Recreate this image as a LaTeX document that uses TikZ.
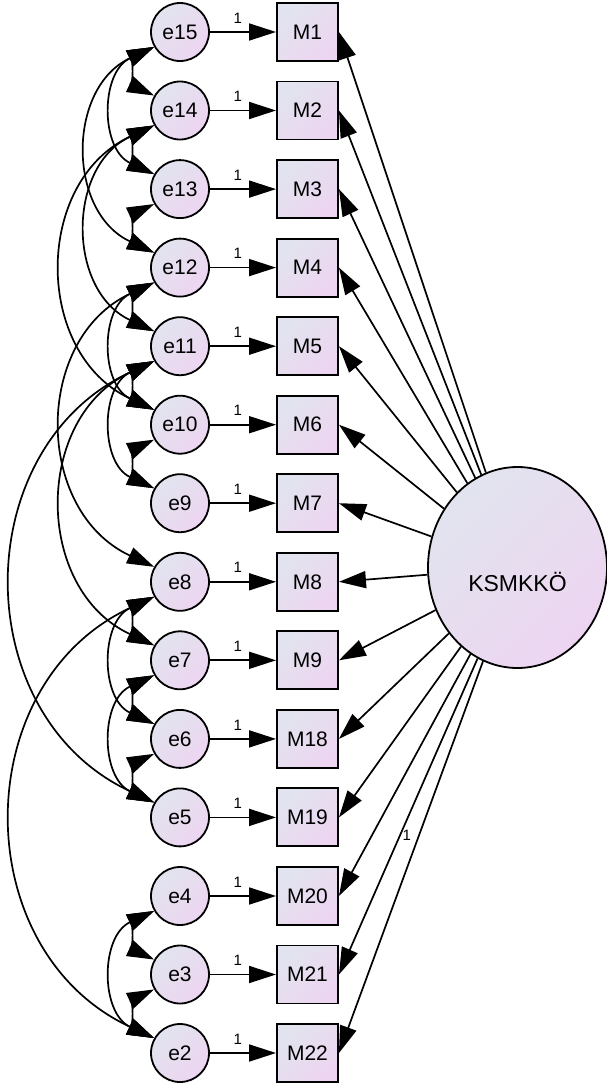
\documentclass[tikz,border=0pt]{standalone}
\usepackage{fontspec}
\setmainfont{Liberation Sans}
\usetikzlibrary{arrows.meta,shapes.geometric}

\definecolor{amosTopo}{RGB}{225,228,238}
\definecolor{amosBase}{RGB}{237,213,241}

\tikzset{
	ponta/.tip={Triangle[length=27pt,width=17pt]},
	erro/.style={circle, draw, line width=1.8pt, minimum size=58pt, inner sep=0pt,
		top color=amosTopo, bottom color=amosBase, shading angle=45,
		font=\fontsize{21}{21}\selectfont},
	obs/.style={rectangle, draw, line width=1.9pt, minimum width=61pt, minimum height=58pt, inner sep=0pt,
		top color=amosTopo, bottom color=amosBase, shading angle=45,
		font=\fontsize{21}{21}\selectfont},
	seta/.style={-ponta, line width=1.7pt},
	cov/.style={ponta-ponta, line width=1.7pt, bend right=65, looseness=1.2},
	um/.style={font=\fontsize{15}{15}\selectfont, inner sep=1pt}
}

\begin{document}
\begin{tikzpicture}[x=1pt, y=-1pt]
		\useasboundingbox (0,0) rectangle (607,1088);

		% Erros
		\node[erro] (e15) at (180,32)		{e15};
		\node[erro] (e14) at (180,110.5)	{e14};
		\node[erro] (e13) at (180,189.1)	{e13};
		\node[erro] (e12) at (180,267.6)	{e12};
		\node[erro] (e11) at (180,346.2)	{e11};
		\node[erro] (e10) at (180,424.7)	{e10};
		\node[erro] (e9) at (180,503.2)		{e9};
		\node[erro] (e8) at (180,581.8)		{e8};
		\node[erro] (e7) at (180,660.3)		{e7};
		\node[erro] (e6) at (180,738.9)		{e6};
		\node[erro] (e5) at (180,817.4)		{e5};
		\node[erro] (e4) at (180,896)		{e4};
		\node[erro] (e3) at (180,974.5)		{e3};
		\node[erro] (e2) at (180,1053)		{e2};

		% Itens
		\node[obs] (M1) at (307.5,32)		{M1};
		\node[obs] (M2) at (307.5,110.5)	{M2};
		\node[obs] (M3) at (307.5,189.1)	{M3};
		\node[obs] (M4) at (307.5,267.6)	{M4};
		\node[obs] (M5) at (307.5,346.2)	{M5};
		\node[obs] (M6) at (307.5,424.7)	{M6};
		\node[obs] (M7) at (307.5,503.2)	{M7};
		\node[obs] (M8) at (307.5,581.8)	{M8};
		\node[obs] (M9) at (307.5,660.3)	{M9};
		\node[obs] (M18) at (307.5,738.9)	{M18};
		\node[obs] (M19) at (307.5,817.4)	{M19};
		\node[obs] (M20) at (307.5,896)		{M20};
		\node[obs] (M21) at (307.5,974.5)	{M21};
		\node[obs] (M22) at (307.5,1053)	{M22};

		% Fator
		\node[ellipse, draw, line width=1.8pt, minimum width=179pt, minimum height=201pt,
			top color=amosTopo, bottom color=amosBase, shading angle=45,
			label={[font=\fontsize{23}{23}\selectfont, yshift=-14pt]center:KSMKKÖ}] (ksm) at (517.5,567.5) {};

		% Erro -> item
		\draw[seta] (e15) -- node[um, pos=0.42, above=7pt] {1} (M1);
		\draw[seta] (e14) -- node[um, pos=0.42, above=7pt] {1} (M2);
		\draw[seta] (e13) -- node[um, pos=0.42, above=7pt] {1} (M3);
		\draw[seta] (e12) -- node[um, pos=0.42, above=7pt] {1} (M4);
		\draw[seta] (e11) -- node[um, pos=0.42, above=7pt] {1} (M5);
		\draw[seta] (e10) -- node[um, pos=0.42, above=7pt] {1} (M6);
		\draw[seta] (e9) -- node[um, pos=0.42, above=7pt] {1} (M7);
		\draw[seta] (e8) -- node[um, pos=0.42, above=7pt] {1} (M8);
		\draw[seta] (e7) -- node[um, pos=0.42, above=7pt] {1} (M9);
		\draw[seta] (e6) -- node[um, pos=0.42, above=7pt] {1} (M18);
		\draw[seta] (e5) -- node[um, pos=0.42, above=7pt] {1} (M19);
		\draw[seta] (e4) -- node[um, pos=0.42, above=7pt] {1} (M20);
		\draw[seta] (e3) -- node[um, pos=0.42, above=7pt] {1} (M21);
		\draw[seta] (e2) -- node[um, pos=0.42, above=7pt] {1} (M22);

		% Cargas fatoriais
		\draw[seta] (ksm) -- (M1.east);
		\draw[seta] (ksm) -- (M2.east);
		\draw[seta] (ksm) -- (M3.east);
		\draw[seta] (ksm) -- (M4.east);
		\draw[seta] (ksm) -- (M5.east);
		\draw[seta] (ksm) -- (M6.east);
		\draw[seta] (ksm) -- (M7.east);
		\draw[seta] (ksm) -- (M8.east);
		\draw[seta] (ksm) -- (M9.east);
		\draw[seta] (ksm) -- (M18.east);
		\draw[seta] (ksm) -- (M19.east);
		\draw[seta] (ksm) -- (M20.east);
		\draw[seta] (ksm) -- (M21.east);
		\draw[seta] (ksm) -- node[um, pos=0.445, left=6pt] {1} (M22.east);

		% Covariancias vizinhas
		\draw[cov] (e15.210) to (e14.150);
		\draw[cov] (e14.210) to (e13.150);
		\draw[cov] (e13.210) to (e12.150);
		\draw[cov] (e12.210) to (e11.150);
		\draw[cov] (e11.210) to (e10.150);
		\draw[cov] (e10.210) to (e9.150);
		\draw[cov] (e8.210) to (e7.150);
		\draw[cov] (e7.210) to (e6.150);
		\draw[cov] (e6.210) to (e5.150);
		\draw[cov] (e4.210) to (e3.150);
		\draw[cov] (e3.210) to (e2.150);

		% Covariancias longas
		\draw[cov] (e15.210) to (e13.150);
		\draw[cov] (e12.210) to (e10.150);
		\draw[cov] (e11.210) to (e9.150);
		\draw[cov] (e8.210) to (e6.150);
		\draw[cov] (e7.210) to (e5.150);
		\draw[cov] (e4.210) to (e2.150);
		\draw[cov] (e15.210) to (e12.150);
		\draw[cov] (e14.210) to (e11.150);
		\draw[cov] (e14.210) to (e10.150);
		\draw[cov] (e12.210) to (e8.150);
		\draw[cov] (e11.210) to (e7.150);
		\draw[cov] (e11.210) to (e5.150);
		\draw[cov] (e8.210) to (e2.150);
	\end{tikzpicture}
\end{document}
